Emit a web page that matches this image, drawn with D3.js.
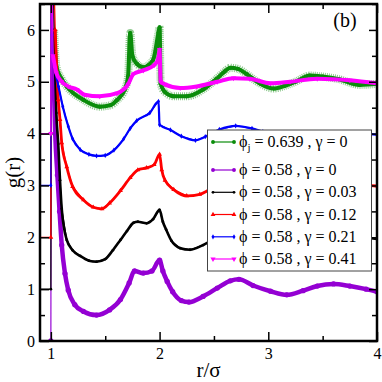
<!DOCTYPE html>
<html>
<head>
<meta charset="utf-8">
<script src="https://cdn.jsdelivr.net/npm/d3@7"></script>
<style>
    body { margin: 0; background: #fff; }
    text { font-family: "Liberation Serif", "Times New Roman", serif; fill: #000; }
</style>
</head>
<body>
<div id="chart"></div>
<script>
// g(r) curves, each already shifted by its offset, as [r/sigma, g]
const jammed = [[0.9,4],[0.99,4],[1.0,4],[1.005,9],[1.01,7.5],[1.03,6.0],[1.05,5.3],[1.1,5.05],[1.15,4.9],[1.3,4.65],[1.45,4.52],[1.55,4.55],[1.61,4.65],[1.68,4.85],[1.71,5.1],[1.73,5.94],[1.75,5.5],[1.79,5.35],[1.85,5.28],[1.94,5.42],[1.99,5.95],[2.0,6.05],[2.01,4.97],[2.05,4.8],[2.13,4.72],[2.25,4.72],[2.4,4.85],[2.52,5.05],[2.6,5.2],[2.65,5.27],[2.72,5.25],[2.8,5.15],[2.92,4.97],[3.05,4.87],[3.15,4.92],[3.25,5.0],[3.38,5.12],[3.5,5.1],[3.65,5.05],[3.84,4.94],[4.0,4.96]];

const shear000 = [[0.9,0],[0.99,0],[1.0,0],[1.005,9],[1.02,5.5],[1.04,4.0],[1.06,3.2],[1.08,2.5],[1.1,1.85],[1.13,1.3],[1.16,0.98],[1.22,0.7],[1.3,0.57],[1.42,0.5],[1.54,0.6],[1.64,0.8],[1.72,1.12],[1.77,1.35],[1.85,1.31],[1.93,1.35],[2.0,1.56],[2.03,1.35],[2.07,1.15],[2.12,0.95],[2.2,0.78],[2.27,0.75],[2.4,0.86],[2.53,1.02],[2.65,1.16],[2.73,1.19],[2.86,1.07],[3.02,0.96],[3.17,0.89],[3.32,0.97],[3.45,1.06],[3.6,1.1],[3.75,1.06],[3.9,1.0],[4.0,0.95]];

const shear003 = [[0.9,1],[0.99,1],[1.0,1],[1.005,9],[1.03,6.0],[1.05,4.4],[1.068,3.8],[1.084,3.1],[1.1,2.55],[1.146,1.95],[1.2,1.75],[1.27,1.64],[1.35,1.55],[1.42,1.53],[1.5,1.58],[1.57,1.75],[1.64,1.95],[1.7,2.12],[1.76,2.28],[1.8,2.3],[1.88,2.27],[1.94,2.35],[2.0,2.53],[2.03,2.3],[2.06,2.15],[2.11,1.93],[2.19,1.79],[2.28,1.76],[2.4,1.85],[2.53,2.0],[2.65,2.12],[2.75,2.14],[2.88,2.05],[3.02,1.96],[3.17,1.91],[3.32,1.97],[3.5,2.05],[3.65,2.06],[3.8,2.02],[4.0,1.97]];

const shear012 = [[0.9,2],[0.99,2],[1.0,2],[1.005,9],[1.04,6.0],[1.068,4.65],[1.084,4.27],[1.1,3.82],[1.146,3.36],[1.2,2.98],[1.3,2.72],[1.39,2.58],[1.47,2.55],[1.54,2.66],[1.64,2.9],[1.73,3.15],[1.8,3.3],[1.88,3.34],[1.95,3.4],[2.0,3.6],[2.02,3.3],[2.05,3.1],[2.13,2.92],[2.25,2.8],[2.37,2.83],[2.46,2.92],[2.6,3.05],[2.75,3.1],[2.9,3.02],[3.05,2.95],[3.2,2.93],[3.4,3.0],[3.6,3.03],[3.8,3.01],[4.0,2.99]];

const shear021 = [[0.9,3],[0.99,3],[1.0,3],[1.005,8],[1.01,5.9],[1.02,5.4],[1.07,4.91],[1.11,4.52],[1.16,4.14],[1.2,3.9],[1.27,3.69],[1.35,3.6],[1.42,3.57],[1.5,3.58],[1.58,3.68],[1.67,3.9],[1.73,4.1],[1.79,4.25],[1.91,4.4],[1.99,4.62],[2.0,4.17],[2.1,4.07],[2.2,3.95],[2.33,3.87],[2.42,3.94],[2.55,4.08],[2.7,4.15],[2.85,4.1],[2.95,4.04],[3.1,3.96],[3.3,3.97],[3.5,4.02],[3.7,4.02],[3.85,4.0],[4.0,3.98]];

const shear041 = [[0.9,4],[0.99,4],[1.0,4],[1.005,9],[1.02,5.5],[1.05,5.17],[1.1,5.0],[1.16,4.91],[1.24,4.85],[1.31,4.75],[1.45,4.72],[1.61,4.78],[1.71,4.95],[1.76,5.15],[1.85,5.22],[1.95,5.32],[1.99,5.45],[2.0,5.62],[2.01,5.0],[2.05,4.95],[2.19,4.88],[2.34,4.91],[2.53,5.0],[2.68,5.07],[2.83,5.06],[3.02,4.97],[3.2,5.0],[3.45,5.06],[3.75,5.03],[4.0,4.97]];

const phiLabels = ["0.639", "0.58", "0.58", "0.58", "0.58", "0.58"];
const gammaLabels = ["0", "0", "0.03", "0.12", "0.21", "0.41"];
const seriesColors = ["#0a8c0a", "#9400d3", "#000000", "#ff0000", "#0000ff", "#ff00ff"];

const xMajorTicks = [1, 2, 3, 4];
const xMinorTicks = [1.5, 2.5, 3.5];
const yMajorTicks = [0, 1, 2, 3, 4, 5, 6];
const yMinorTicks = [0.5, 1.5, 2.5, 3.5, 4.5, 5.5, 6.5];

const series = [
    { data: jammed,   width: 4,   symbol: d3.symbolCircle,   size: 14, rot: 0 },
    { data: shear000, width: 4.5, symbol: d3.symbolCircle,   size: 22, rot: 0 },
    { data: shear003, width: 2.6, symbol: d3.symbolCircle,   size: 6,  rot: 0 },
    { data: shear012, width: 2.8, symbol: d3.symbolTriangle, size: 10, rot: 0 },
    { data: shear021, width: 2.2, symbol: d3.symbolDiamond,  size: 8,  rot: 0 },
    { data: shear041, width: 4,   symbol: d3.symbolTriangle, size: 12, rot: 180 }
];
series.forEach((s, i) => s.color = seriesColors[i]);

const width = 382, height = 382;
const margin = { top: 4, right: 5, bottom: 41, left: 40 };

const svg = d3.select("#chart").append("svg")
    .attr("width", width)
    .attr("height", height);

const x = d3.scaleLinear().domain([0.9, 4]).range([margin.left, width - margin.right]);
const y = d3.scaleLinear().domain([0, 6.5]).range([height - margin.bottom, margin.top]);

svg.append("clipPath").attr("id", "plot-clip")
    .append("rect")
    .attr("x", margin.left)
    .attr("y", margin.top)
    .attr("width", width - margin.left - margin.right)
    .attr("height", height - margin.top - margin.bottom);

const plot = svg.append("g").attr("clip-path", "url(#plot-clip)");

const line = d3.line().x(d => x(d[0])).y(d => y(d[1]));
const smoothLine = d3.line().x(d => x(d[0])).y(d => y(d[1])).curve(d3.curveMonotoneX);

series.forEach((s, i) => {
    const g = plot.append("g");
    // thin jump at contact
    g.append("path")
        .attr("d", line(s.data))
        .attr("fill", "none")
        .attr("stroke", s.color)
        .attr("stroke-width", 1.2);

    const body = s.data.filter(d => d[0] >= 1.015);
    if (i === 0) {
        // noisy jammed curve
        g.append("path")
            .attr("d", smoothLine(body))
            .attr("fill", "none")
            .attr("stroke", s.color)
            .attr("stroke-opacity", 0.45)
            .attr("stroke-width", 8)
            .attr("stroke-dasharray", "1,1");
    }
    g.append("path")
        .attr("d", smoothLine(body))
        .attr("fill", "none")
        .attr("stroke", s.color)
        .attr("stroke-width", s.width)
        .attr("stroke-linejoin", "round");

    g.selectAll(".pt")
        .data(s.data.filter(d => d[0] >= 1.0))
        .enter()
        .append("path")
        .attr("transform", d => `translate(${x(d[0])},${y(d[1])}) rotate(${s.rot})`)
        .attr("d", d3.symbol().type(s.symbol).size(s.size))
        .attr("fill", s.color);
});

// axes with inward ticks
const inner = height - margin.top - margin.bottom;
const axisStyle = sel => {
    sel.select(".domain").remove();
    sel.selectAll("line").attr("stroke", "#000").attr("stroke-width", 1.5);
    sel.selectAll("text").attr("font-size", 16).attr("font-family", "Liberation Serif, serif").attr("fill", "#000");
};

svg.append("g")
    .attr("transform", `translate(0,${height - margin.bottom})`)
    .call(d3.axisBottom(x).tickValues(xMajorTicks).tickSizeInner(-9).tickSizeOuter(0).tickPadding(7).tickFormat(d3.format("d")))
    .call(axisStyle);
svg.append("g")
    .attr("transform", `translate(0,${height - margin.bottom})`)
    .call(d3.axisBottom(x).tickValues(xMinorTicks).tickSize(-5).tickFormat(""))
    .call(axisStyle);
svg.append("g")
    .attr("transform", `translate(0,${margin.top})`)
    .call(d3.axisTop(x).tickValues(xMajorTicks).tickSize(-9).tickFormat(""))
    .call(axisStyle);
svg.append("g")
    .attr("transform", `translate(0,${margin.top})`)
    .call(d3.axisTop(x).tickValues(xMinorTicks).tickSize(-5).tickFormat(""))
    .call(axisStyle);

svg.append("g")
    .attr("transform", `translate(${margin.left},0)`)
    .call(d3.axisLeft(y).tickValues(yMajorTicks).tickSizeInner(-9).tickSizeOuter(0).tickPadding(5).tickFormat(d3.format("d")))
    .call(axisStyle);
svg.append("g")
    .attr("transform", `translate(${margin.left},0)`)
    .call(d3.axisLeft(y).tickValues(yMinorTicks).tickSize(-5).tickFormat(""))
    .call(axisStyle);
svg.append("g")
    .attr("transform", `translate(${width - margin.right},0)`)
    .call(d3.axisRight(y).tickValues(yMajorTicks).tickSize(-8).tickFormat(""))
    .call(axisStyle);
svg.append("g")
    .attr("transform", `translate(${width - margin.right},0)`)
    .call(d3.axisRight(y).tickValues(yMinorTicks).tickSize(-5).tickFormat(""))
    .call(axisStyle);

// frame
svg.append("rect")
    .attr("x", margin.left)
    .attr("y", margin.top)
    .attr("width", width - margin.left - margin.right)
    .attr("height", inner)
    .attr("fill", "none")
    .attr("stroke", "#000")
    .attr("stroke-width", 2.5);

// axis titles
svg.append("text")
    .attr("x", (margin.left + width - margin.right) / 2)
    .attr("y", 377)
    .attr("text-anchor", "middle")
    .attr("font-size", 21)
    .text("r/σ");

svg.append("text")
    .attr("transform", `translate(20,${margin.top + inner / 2}) rotate(-90)`)
    .attr("text-anchor", "middle")
    .attr("font-size", 21)
    .text("g(r)");

svg.append("text")
    .attr("x", 345)
    .attr("y", 27)
    .attr("text-anchor", "middle")
    .attr("font-size", 20)
    .text("(b)");

// legend
const legend = svg.append("g");
legend.append("rect")
    .attr("x", 207.5)
    .attr("y", 130)
    .attr("width", 164)
    .attr("height", 141)
    .attr("fill", "#fff")
    .attr("stroke", "#444")
    .attr("stroke-width", 1);

const rowY = [142, 170, 192.3, 214.5, 236.8, 259];

series.forEach((s, i) => {
    const ly = rowY[i];
    legend.append("line")
        .attr("x1", 213).attr("x2", 234)
        .attr("y1", ly).attr("y2", ly)
        .attr("stroke", s.color)
        .attr("stroke-width", 1.2);
    [213, 234].forEach(px => {
        legend.append("path")
            .attr("transform", `translate(${px},${ly}) rotate(${s.rot})`)
            .attr("d", d3.symbol().type(s.symbol).size(Math.min(s.size, 12)))
            .attr("fill", s.color);
    });
    const t = legend.append("text")
        .attr("x", 239)
        .attr("y", ly + 5)
        .attr("font-size", 16);
    t.append("tspan").text("ϕ");
    if (i === 0) {
        t.append("tspan").attr("font-size", 11).attr("dy", 4).text("j");
        t.append("tspan").attr("dy", -4).text(` = ${phiLabels[i]} , γ = ${gammaLabels[i]}`);
    } else {
        t.append("tspan").text(` = ${phiLabels[i]} , γ = ${gammaLabels[i]}`);
    }
});
</script>
</body>
</html>
